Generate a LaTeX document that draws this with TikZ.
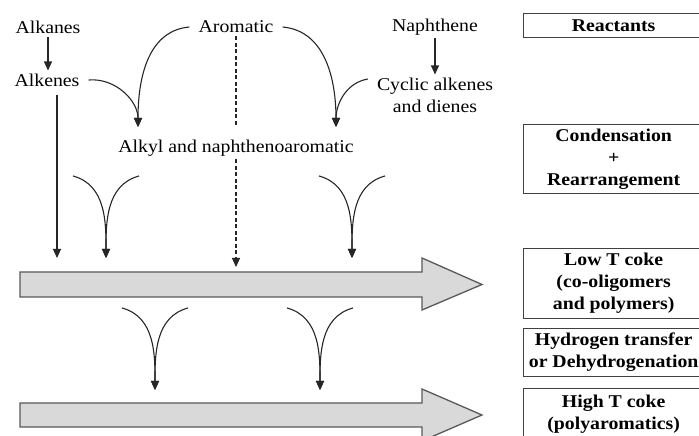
\documentclass[tikz,border=0pt]{standalone}
\usepackage{fontspec}
\setmainfont{Liberation Serif}[FakeStretch=1.1]
\usetikzlibrary{arrows.meta}
\usetikzlibrary{calc}
\tikzset{>={Triangle[length=9pt,width=8pt]}}
\tikzset{
  species/.style={font=\fontsize{18}{22}\selectfont, align=center, inner xsep=9pt, inner ysep=3pt},
  stage/.style={draw=black!75, line width=1.3pt, font=\fontsize{18}{22}\selectfont\bfseries,
    align=center, anchor=north west, minimum width=180pt, inner sep=0pt},
  flow/.style={->, line width=1.1pt, black!85},
  guess/.style={flow, dash pattern=on 4pt off 2.5pt},
  bar/.style={draw=black!65, fill=black!15, line width=1.3pt},
}

\begin{document}
\begin{tikzpicture}[x=1pt,y=1pt]
  \useasboundingbox (0,0) rectangle (699,436);
  % feed species
  \node[species] (alkanes)   at (48,409)  {Alkanes};
  \node[species] (alkenes)   at (47,356)  {Alkenes};
  \node[species] (aromatic)  at (236,409) {Aromatic};
  \node[species] (naphthene) at (435,409) {Naphthene};
  \node[species] (cyclic)    at (435,341) {Cyclic alkenes\\and dienes};
  \node[species] (alkyl)     at (236,288) {Alkyl and naphthenoaromatic};
  % stages on the right
  \node[stage, minimum height=24pt] (reactants)    at (523,423) {Reactants};
  \node[stage, minimum height=69pt] (condensation) at (523,312) {Condensation\\+\\Rearrangement};
  \node[stage, minimum height=70pt] (lowcoke)      at (523,188) {Low T coke\\(co-oligomers\\and polymers)};
  \node[stage, minimum height=48pt] (htransfer)    at (523,108) {Hydrogen transfer\\or Dehydrogenation};
  \node[stage, minimum height=52pt] (highcoke)     at (523,48)  {High T coke\\(polyaromatics)};
  % coke layers
  \draw[bar] (20,139) -- (422,139) -- (422,126) -- (482,151.5) -- (422,178) -- (422,164) -- (20,164) -- cycle;
  \draw[bar] (20,9) -- (422,9) -- (422,-5) -- (482,21) -- (422,47) -- (422,33) -- (20,33) -- cycle;
  \coordinate (in1) at (138,309);
  \coordinate (in2) at (336,309);
  \coordinate (down) at (57,178);
  \coordinate (dashend) at (236,169);
  % reactions
  \draw[flow] (alkanes) -- (alkanes |- alkenes.north);
  \draw[flow] (naphthene) -- (cyclic);
  \draw[flow] (alkenes.east) to[out=5,in=90] (in1);
  \draw[flow] (aromatic.west) to[out=185,in=90] (in1);
  \draw[flow] (aromatic.east) to[out=-5,in=90] (in2);
  \draw[flow] ($(cyclic.west)+(0,16)$) to[out=190,in=90] (in2);
  \draw[flow] ($(alkenes.south)+(10,-5)$) -- (down);
  \draw[guess, -] (aromatic.south) -- (aromatic.south |- in1);
  \draw[guess] (alkyl.south) -- (dashend);
  % V-shaped arrows
  \foreach \n/\x/\y in {a/106/178, b/352/178, c/155/46, d/320/46}{
    \coordinate (tip\n) at (\x,\y);
    \coordinate (l\n) at (\x-33,\y+82);
    \coordinate (r\n) at (\x+33,\y+82);
    \draw[flow] (l\n) to[out=-15,in=90] (tip\n);
    \draw[flow] (r\n) to[out=195,in=90] (tip\n);
  }
\end{tikzpicture}
\end{document}
